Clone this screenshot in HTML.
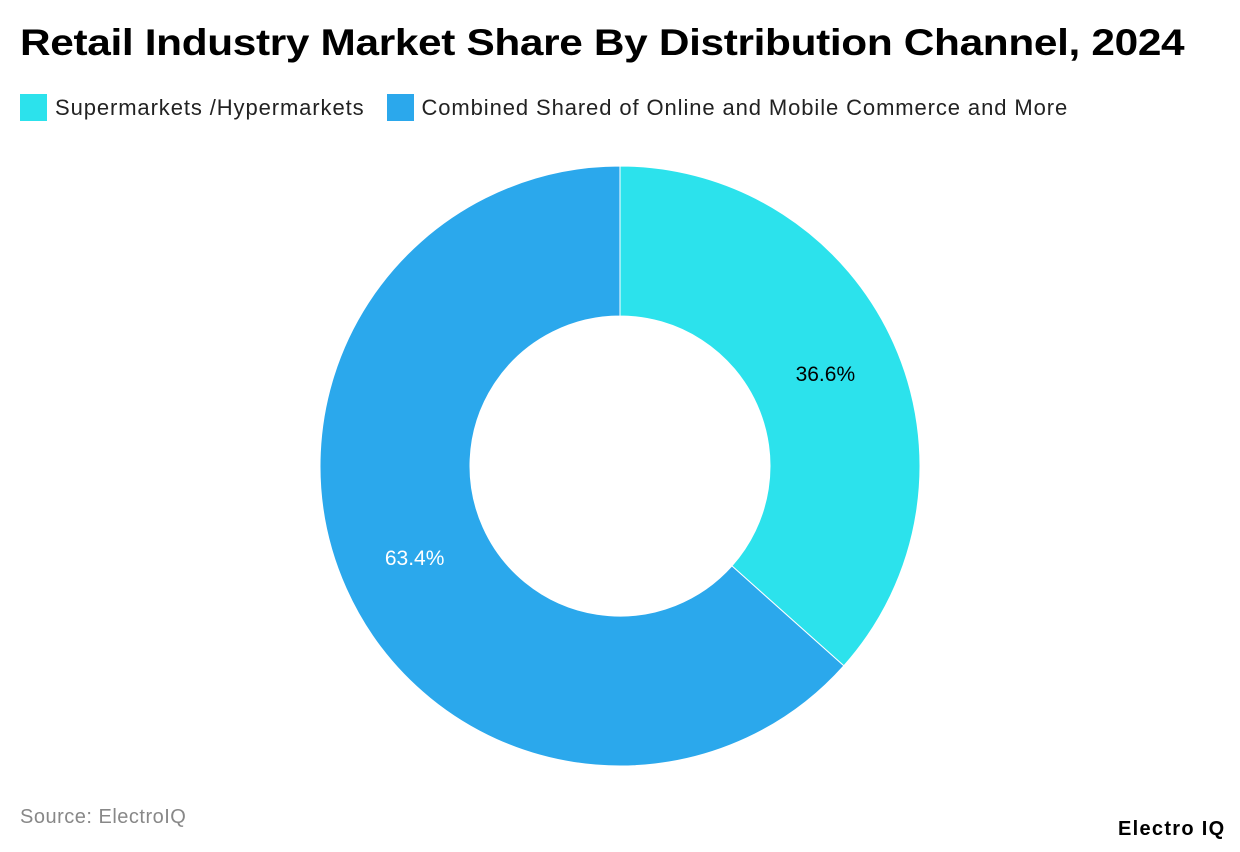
<!DOCTYPE html>
<html><head><meta charset="utf-8"><style>
body{margin:0;width:1240px;height:852px;background:#fff;font-family:"Liberation Sans",sans-serif;position:relative;overflow:hidden}
.title{position:absolute;left:20px;top:22px;font-size:37px;font-weight:bold;color:#000;letter-spacing:-0.3px;transform:scaleX(1.145);transform-origin:left top;white-space:nowrap}
.legend{position:absolute;top:94px;left:20px;display:flex;align-items:center;font-size:22px;color:#222;letter-spacing:0.9px;white-space:nowrap}
.sw{width:27px;height:27px;margin-right:8px}
.item{display:flex;align-items:center;margin-right:22px}
.src{position:absolute;left:20px;top:806px;font-size:20px;color:#888;letter-spacing:0.5px}
.logo{position:absolute;left:1118px;top:818px;font-size:20px;font-weight:bold;color:#000;letter-spacing:1.3px;white-space:nowrap}
</style></head><body>
<div class="title">Retail Industry Market Share By Distribution Channel, 2024</div>
<div class="legend">
<div class="item"><div class="sw" style="background:#2ce2ec"></div>Supermarkets /Hypermarkets</div>
<div class="item"><div class="sw" style="background:#2ba8ec"></div>Combined Shared of Online and Mobile Commerce and More</div>
</div>
<svg id="chart" width="1240" height="852" style="position:absolute;left:0;top:0"></svg>
<div class="src">Source: ElectroIQ</div>
<div class="logo">Electro IQ</div>
<script>
const categories=["Supermarkets /Hypermarkets","Combined Shared of Online and Mobile Commerce and More"];
const values=[36.6,63.4];
const colors=["#2ce2ec","#2ba8ec"];
const labelColors=["#000","#fff"];
const cx=620,cy=466,R=300,r=150;
const svg=document.getElementById('chart');
const ns="http://www.w3.org/2000/svg";
const total=values.reduce((a,b)=>a+b,0);
function pt(rad,a){return [cx+rad*Math.sin(a),cy-rad*Math.cos(a)];}
let start=0;
values.forEach((v,i)=>{
  const end=start+v/total*2*Math.PI;
  const large=(end-start)>Math.PI?1:0;
  const [x1,y1]=pt(R,start),[x2,y2]=pt(R,end),[x3,y3]=pt(r,end),[x4,y4]=pt(r,start);
  const p=document.createElementNS(ns,'path');
  p.setAttribute('d',`M${x1},${y1}A${R},${R} 0 ${large} 1 ${x2},${y2}L${x3},${y3}A${r},${r} 0 ${large} 0 ${x4},${y4}Z`);
  p.setAttribute('fill',colors[i]);p.setAttribute('stroke','#fff');p.setAttribute('stroke-width','1');
  
  
  svg.appendChild(p);
  const mid=(start+end)/2;const [lx,ly]=pt((R+r)/2,mid);
  const t=document.createElementNS(ns,'text');
  t.setAttribute('x',lx);t.setAttribute('y',ly+7);t.setAttribute('text-anchor','middle');
  t.setAttribute('font-size','21');t.setAttribute('fill',labelColors[i]);
  t.setAttribute('font-family','Liberation Sans, sans-serif');
  t.textContent=v.toFixed(1)+'%';
  
  
  svg.appendChild(t);
  start=end;
});
</script>
</body></html>
